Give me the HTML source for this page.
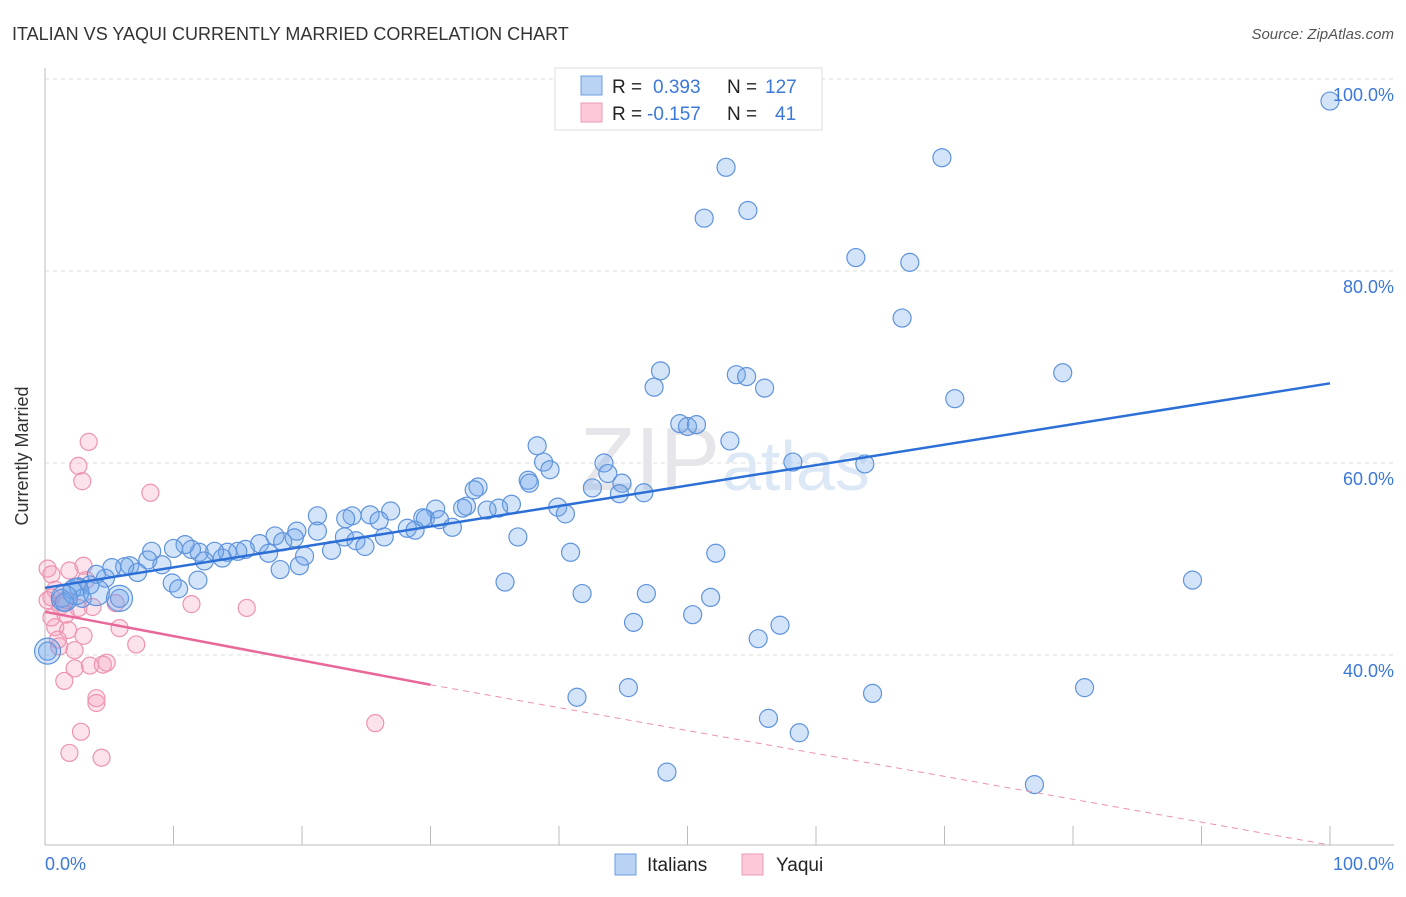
<!DOCTYPE html>
<html><head><meta charset="utf-8"><style>
body{margin:0;background:#fff;font-family:"Liberation Sans",sans-serif;}
svg text{font-family:"Liberation Sans",sans-serif;}
</style></head><body>
<svg width="1406" height="892" viewBox="0 0 1406 892">
<text x="12" y="40" font-size="18" fill="#333">ITALIAN VS YAQUI CURRENTLY MARRIED CORRELATION CHART</text>
<text x="1394" y="39" font-size="15" fill="#555" font-style="italic" text-anchor="end">Source: ZipAtlas.com</text>
<g id="grid"></g>
<text x="720" y="490" font-size="90" fill="#e6e6ea" font-family="Liberation Serif" text-anchor="end">ZIP</text>
<text x="722" y="490" font-size="70" fill="#dde8f6">atlas</text>
<line x1="45" y1="68" x2="45" y2="845" stroke="#bbb"/>
<line x1="45" y1="845" x2="1394" y2="845" stroke="#bbb"/>
<g id="marks"></g>
<text x="28" y="456" font-size="18" fill="#333" text-anchor="middle" transform="rotate(-90 28 456)">Currently Married</text>
<text x="45" y="870" font-size="18" fill="#3b78d8">0.0%</text>
<text x="1394" y="870" font-size="18" fill="#3b78d8" text-anchor="end">100.0%</text>
<g>
<rect x="555" y="68" width="267" height="62" fill="#fff" stroke="#ddd"/>
<rect x="581" y="76" width="21" height="19" fill="#b9d3f5" stroke="#6c9ee0"/>
<rect x="581" y="103" width="21" height="19" fill="#fbc9d8" stroke="#ee9ab4"/>
<text x="612" y="93" font-size="19" fill="#222">R =</text>
<text x="653" y="93" font-size="19" fill="#3b78d8">0.393</text>
<text x="727" y="93" font-size="19" fill="#222">N =</text>
<text x="765" y="93" font-size="19" fill="#3b78d8">127</text>
<text x="612" y="120" font-size="19" fill="#222">R =</text>
<text x="647" y="120" font-size="19" fill="#3b78d8">-0.157</text>
<text x="727" y="120" font-size="19" fill="#222">N =</text>
<text x="775" y="120" font-size="19" fill="#3b78d8">41</text>
</g>
<g>
<rect x="615" y="854" width="21" height="21" fill="#b9d3f5" stroke="#6c9ee0"/>
<text x="647" y="871" font-size="19" fill="#222">Italians</text>
<rect x="742" y="854" width="21" height="21" fill="#fbc9d8" stroke="#ee9ab4"/>
<text x="776" y="871" font-size="19" fill="#222">Yaqui</text>
</g>
</svg>
<script>
const yTicks=[40,60,80,100];
const yTickLabels=["40.0%","60.0%","80.0%","100.0%"];
const xTicks=[0,10,20,30,40,50,60,70,80,90,100];
const italiansX=[100,53.0,69.8,51.3,54.7,63.1,67.3,66.7,47.9,47.4,53.8,54.6,56.0,79.2,70.8,49.4,50.0,50.7,53.3,38.3,38.8,39.3,43.5,58.2,63.8,43.8,37.6,37.7,44.9,42.6,44.7,46.6,33.7,33.4,36.3,39.9,40.5,35.3,34.4,32.8,32.5,30.4,29.6,30.7,31.7,29.4,28.2,28.8,26.9,25.3,23.9,23.4,26.0,23.3,24.2,24.9,26.4,21.2,21.2,19.6,19.4,17.9,18.5,16.7,17.4,15.6,15.0,14.2,13.8,13.2,12.0,12.4,11.4,10.9,10.0,8.3,8.0,9.1,6.6,7.2,6.2,5.2,4.7,4.0,3.5,2.6,2.1,1.3,1.5,2.9,5.8,9.9,10.4,11.9,19.8,18.3,20.2,22.3,36.8,40.9,35.8,41.8,46.8,51.8,45.8,50.4,55.5,57.2,52.2,89.3,0.2,41.4,45.4,56.3,58.7,64.4,80.9,48.4,77.0];
const italiansY=[97.7,90.8,91.8,85.5,86.3,81.4,80.9,75.1,69.6,67.9,69.2,69.0,67.8,69.4,66.7,64.1,63.8,64.0,62.3,61.8,60.1,59.3,60.0,60.1,59.9,58.9,58.2,57.9,57.9,57.4,56.8,56.9,57.5,57.2,55.7,55.4,54.7,55.3,55.1,55.5,55.3,55.2,54.2,54.1,53.3,54.3,53.2,53.0,55.0,54.6,54.5,54.2,54.0,52.3,51.9,51.3,52.3,54.5,52.9,52.9,52.2,52.4,51.8,51.6,50.6,51.0,50.8,50.7,50.1,50.8,50.7,49.8,51.0,51.5,51.1,50.8,49.9,49.4,49.3,48.6,49.2,49.1,48.0,48.4,47.3,47.1,46.8,45.9,45.5,45.9,45.9,47.5,46.9,47.8,49.3,48.9,50.3,50.9,52.3,50.7,47.6,46.4,46.4,46.0,43.4,44.2,41.7,43.1,50.6,47.8,40.4,35.6,36.6,33.4,31.9,36.0,36.6,27.8,26.5];
const yaquiX=[3.4,2.6,2.9,8.2,0.2,0.5,3.0,1.9,3.2,0.8,0.5,1.6,3.7,1.2,2.6,1.6,0.8,1.8,3.0,1.1,2.3,5.8,5.5,11.4,15.7,7.1,2.3,3.5,4.5,4.8,1.5,4.0,4.0,2.8,1.9,4.4,25.7,0.5,0.2,1.0];
const yaquiY=[62.2,59.7,58.1,56.9,49.0,48.4,49.3,48.8,47.8,46.8,46.0,45.7,45.0,45.1,44.9,44.2,42.9,42.6,42.0,40.9,40.5,42.8,45.4,45.3,44.9,41.1,38.6,38.9,39.0,39.2,37.3,35.5,35.0,32.0,29.8,29.3,32.9,43.9,45.7,41.6];
const bigItalians=[[2.4,46.6],[1.5,45.9],[4.0,46.5],[0.2,40.4],[5.8,45.9]];
const italiansTrend=[[0,47.0],[100,68.3]];
const yaquiTrend=[[0,44.5],[30,36.9],[100,20.2]];

const NS="http://www.w3.org/2000/svg";
const X=v=>45+v*12.85;
const Y=v=>655-(v-40)*9.6;
function mk(t,a,p){const e=document.createElementNS(NS,t);for(const k in a)e.setAttribute(k,a[k]);p.appendChild(e);return e;}
const grid=document.getElementById('grid'),marks=document.getElementById('marks');
const svg=grid.ownerSVGElement;
yTicks.forEach((t,i)=>{
 const g=mk('line',{x1:45,x2:1394,y1:Y(t),y2:Y(t),stroke:'#ddd','stroke-dasharray':'4 4'},grid);
 
 
 const tx=mk('text',{x:1394,y:Y(t)+22,'font-size':18,fill:'#3b78d8','text-anchor':'end'},svg);
 tx.textContent=yTickLabels[i];
 
 
});
xTicks.forEach(t=>{
 const l=mk('line',{x1:X(t),x2:X(t),y1:826,y2:845,stroke:'#bbb'},grid);
 
 
});
yaquiX.forEach((x,i)=>{
 const c=mk('circle',{cx:X(x),cy:Y(yaquiY[i]),r:8.5,fill:'rgba(245,160,190,0.3)',stroke:'#ee93b0','stroke-width':1.2},marks);
 
 
});
italiansX.forEach((x,i)=>{
 const c=mk('circle',{cx:X(x),cy:Y(italiansY[i]),r:9,fill:'rgba(110,165,235,0.3)',stroke:'#5f93dc','stroke-width':1.2},marks);
 
 
});
bigItalians.forEach(p=>{
 const c=mk('circle',{cx:X(p[0]),cy:Y(p[1]),r:13,fill:'rgba(110,165,235,0.3)',stroke:'#5f93dc','stroke-width':1.2},marks);
 
 
});
const bl=mk('line',{x1:X(italiansTrend[0][0]),y1:Y(italiansTrend[0][1]),x2:X(italiansTrend[1][0]),y2:Y(italiansTrend[1][1]),stroke:'#2c6fd6','stroke-width':2.5},marks);


const pl=mk('line',{x1:X(yaquiTrend[0][0]),y1:Y(yaquiTrend[0][1]),x2:X(yaquiTrend[1][0]),y2:Y(yaquiTrend[1][1]),stroke:'#e8689a','stroke-width':2.5},marks);


const pd=mk('line',{x1:X(yaquiTrend[1][0]),y1:Y(yaquiTrend[1][1]),x2:X(yaquiTrend[2][0]),y2:Y(yaquiTrend[2][1]),stroke:'#ec8fb0','stroke-width':1,'stroke-dasharray':'6 5'},marks);


</script>
</body></html>
